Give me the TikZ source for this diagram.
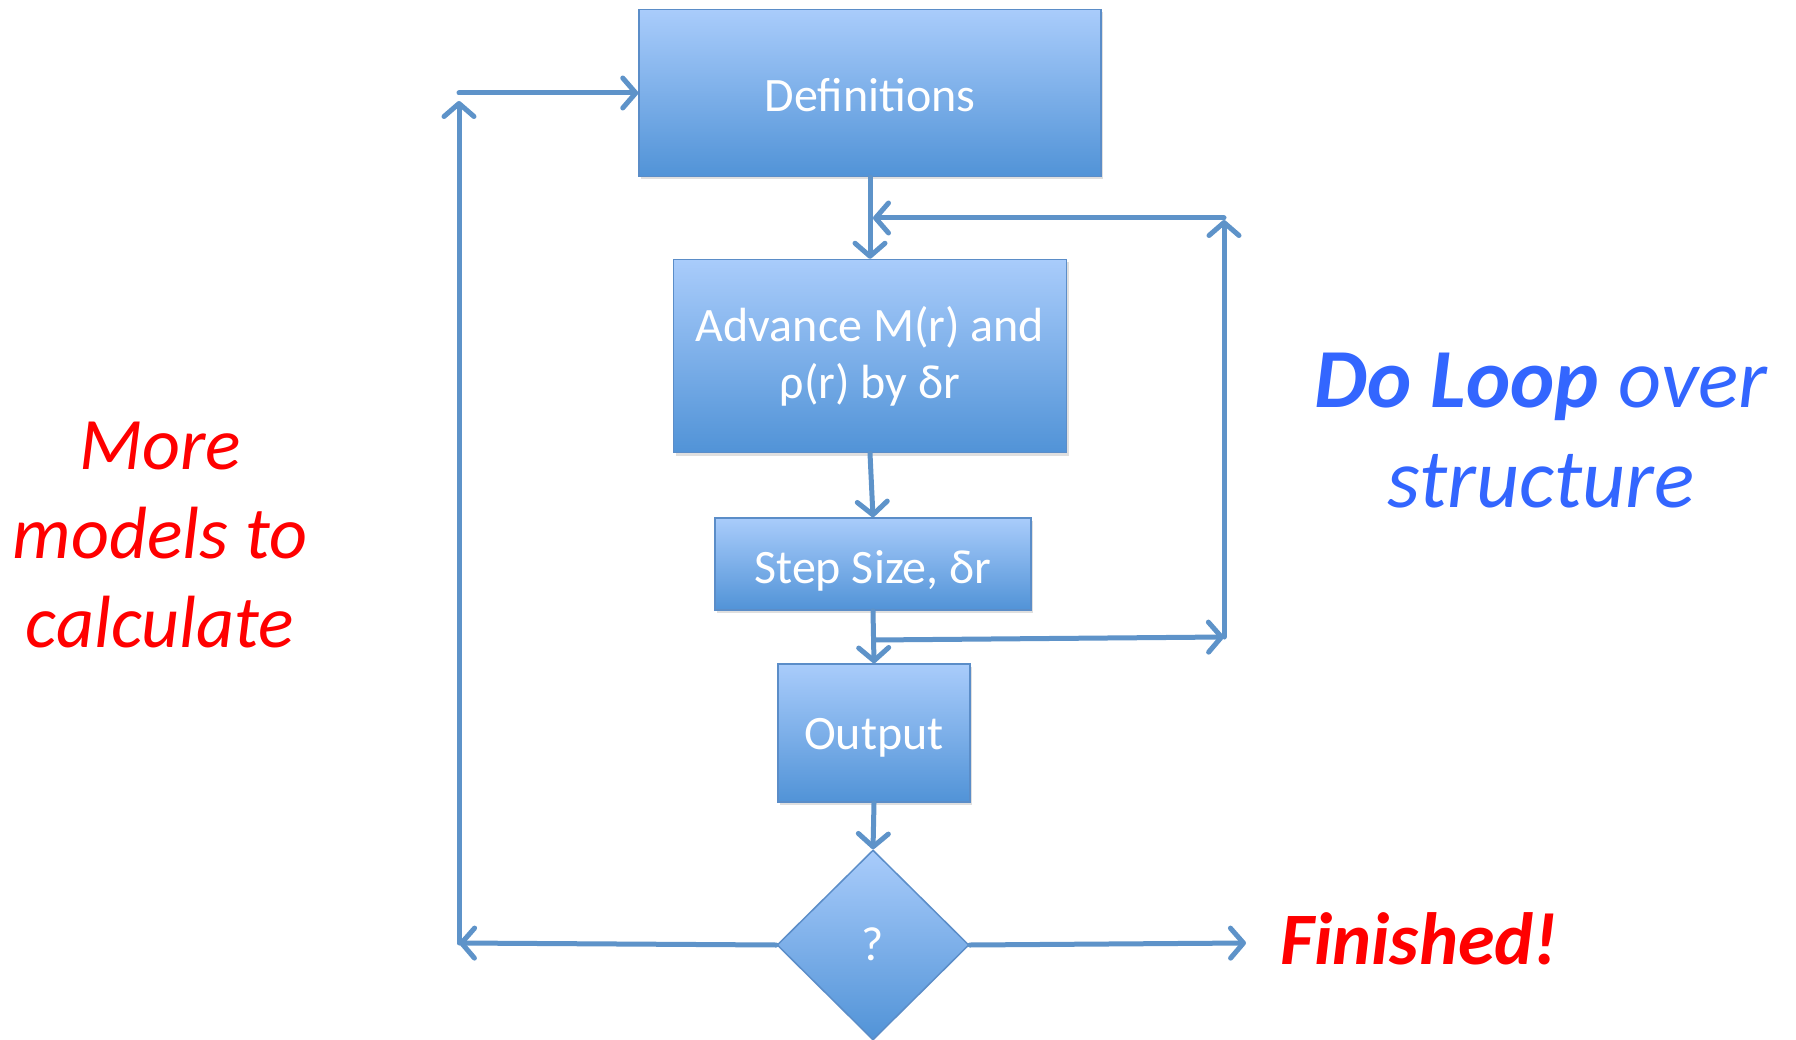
\documentclass[tikz,border=0pt]{standalone}
\usepackage{fontspec}
\setmainfont{Carlito}
\usetikzlibrary{arrows.meta,shapes.geometric,shadows}
\definecolor{boxtop}{HTML}{A9CCFB}
\definecolor{boxbot}{HTML}{5193D7}
\definecolor{boxline}{HTML}{5B8DC8}
\definecolor{conn}{HTML}{5E93C9}
\definecolor{loopblue}{HTML}{3366FF}
\definecolor{redtxt}{HTML}{FF0000}
\tikzset{
  flowbox/.style={rectangle, draw=boxline, line width=1.5pt, top color=boxtop, bottom color=boxbot,
    text=white, font=\fontsize{48}{57}\selectfont, align=center, inner sep=0pt,
    drop shadow={opacity=0.25, shadow xshift=2pt, shadow yshift=-3pt}},
  decbox/.style={diamond, draw=boxline, line width=1.5pt, top color=boxtop, bottom color=boxbot,
    text=white, font=\fontsize{48}{57}\selectfont, inner sep=0pt, aspect=1},
  conline/.style={draw=conn, line width=5pt, line cap=round, line join=round},
  arr/.style={conline, -{Straight Barb[length=13pt,width=30pt,line cap=round,line join=round]}},
  redlabel/.style={text=redtxt, font=\fontsize{74}{89}\selectfont\itshape, align=center, inner sep=0pt},
  bluelabel/.style={text=loopblue, font=\fontsize{84}{100}\selectfont\itshape, align=center, inner sep=0pt}
}
\begin{document}
\begin{tikzpicture}[x=1pt,y=-1pt]
\useasboundingbox (0,0) rectangle (1796,1040);
\fill[white] (0,0) rectangle (1796,1040);
% nodes
\node[flowbox, minimum width=462pt, minimum height=167pt, text height=38pt, text depth=0pt] (def) at (870,93) {Definitions};
\node[flowbox, minimum width=393pt, minimum height=193pt] (adv) at (870,356) {Advance M(r) and\\ρ(r) by δr};
\node[flowbox, minimum width=316pt, minimum height=92pt, text height=38pt, text depth=0pt] (stp) at (873,564) {Step Size, δr};
\node[flowbox, minimum width=192pt, minimum height=138pt, text height=32pt, text depth=0pt] (out) at (874,733) {Output};
\node[decbox, minimum width=192pt, minimum height=190pt, text height=30pt, text depth=0pt] (q) at (873,945) {?};
% labels
\node[redlabel] (more) at (160,535) {More\\models to\\calculate};
\node[bluelabel] (loop) at (1541,431) {\textbf{Do Loop} over\\structure};
\node[redlabel, font=\fontsize{74}{89}\selectfont\bfseries\itshape, anchor=base] (fin) at (1419,964) {Finished!};
% coordinates
\coordinate (j1) at (874,640);
\coordinate (r1) at (1224,637);
\coordinate (r2) at (1224,220);
\coordinate (r3) at (1224,218);
\coordinate (j2) at (873,218);
\coordinate (l1) at (459,943);
\coordinate (l2) at (459,101);
\coordinate (l3) at (459,93);
\coordinate (f1) at (1246,943);
% connectors
\draw[arr] (def.south) -- (adv.north);
\draw[arr] (adv.south) -- (stp.north);
\draw[arr] (stp.south) -- (out.north);
\draw[arr] (out.south) -- (q.north);
\draw[arr] (j1) -- (r1);
\draw[arr] (r1) -- (r2);
\draw[arr] (r3) -- (j2);
\draw[arr] (q.west) -- (l1);
\draw[arr] (l1) -- (l2);
\draw[arr] (l3) -- (def.west);
\draw[arr] (q.east) -- (f1);
\end{tikzpicture}
\end{document}
